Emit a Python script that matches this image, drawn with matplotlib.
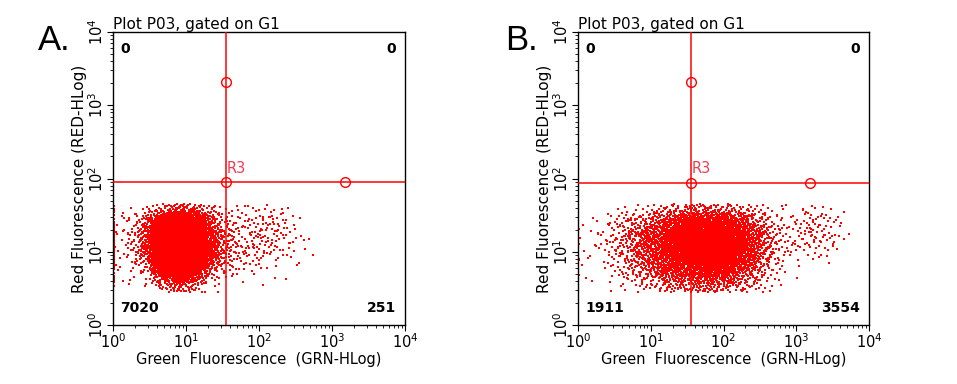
import numpy as np
import matplotlib.pyplot as plt
from matplotlib.ticker import LogLocator, NullFormatter, FixedLocator

# bin edges (log10 units) used to describe the event density
x_edges_a = [0.0, 0.2, 0.4, 0.6, 0.8, 1.0, 1.2, 1.4, 1.6, 1.8, 2.0, 2.2, 2.4, 2.6, 2.8]
x_edges_b = [0.0, 0.2, 0.4, 0.6, 0.8, 1.0, 1.2, 1.4, 1.6, 1.8, 2.0, 2.2, 2.4, 2.6, 2.8,
             3.0, 3.2, 3.4, 3.6, 3.8]
y_edges = [0.45, 0.60, 0.75, 0.90, 1.05, 1.20, 1.35, 1.50, 1.65]

# events per bin, rows bottom -> top
counts_a = [
    [1, 1, 2, 12, 30, 20, 3, 1, 1, 0, 0, 0, 0, 0],
    [2, 3, 8, 60, 140, 90, 20, 6, 4, 2, 1, 1, 0, 0],
    [3, 8, 30, 245, 365, 285, 60, 15, 8, 6, 4, 2, 1, 0],
    [4, 12, 60, 400, 560, 460, 110, 25, 12, 9, 8, 6, 3, 1],
    [4, 14, 70, 430, 590, 480, 120, 28, 13, 11, 10, 8, 4, 1],
    [4, 12, 55, 350, 480, 390, 90, 22, 11, 10, 11, 9, 3, 0],
    [3, 8, 30, 130, 250, 180, 45, 14, 8, 8, 9, 7, 3, 0],
    [1, 3, 8, 20, 45, 30, 12, 5, 4, 4, 4, 4, 1, 0],
]
# events piled up on the left axis (minimum channel), per y bin
edge_pile_a = [2, 5, 8, 10, 10, 9, 7, 4]

counts_b = [
    [0, 0, 1, 3, 6, 11, 17, 22, 27, 27, 21, 13, 6, 2, 0, 0, 0, 0, 0],
    [1, 1, 4, 9, 16, 29, 45, 60, 72, 72, 56, 34, 16, 6, 1, 0, 0, 0, 0],
    [1, 2, 7, 15, 28, 50, 78, 105, 126, 126, 98, 59, 28, 10, 2, 1, 1, 0, 0],
    [2, 3, 10, 21, 38, 68, 106, 150, 185, 180, 133, 80, 38, 13, 4, 4, 4, 2, 0],
    [2, 4, 11, 23, 42, 76, 118, 165, 205, 200, 147, 88, 42, 15, 6, 8, 9, 6, 1],
    [1, 3, 9, 20, 36, 65, 101, 140, 170, 165, 126, 76, 36, 13, 6, 10, 12, 8, 1],
    [1, 2, 6, 13, 22, 38, 60, 85, 100, 100, 78, 45, 20, 8, 4, 8, 9, 6, 1],
    [0, 0, 2, 4, 6, 10, 16, 20, 25, 25, 20, 12, 6, 3, 2, 4, 5, 3, 0],
]
edge_pile_b = [0, 1, 1, 1, 1, 1, 0, 0]

# quadrant gate R3 and its handles
gate_x = [35.5, 35.7]
gate_y = [89.0, 88.0]
handle_top_y = [2090, 2060]
handle_right_x = [1510, 1520]
quad_counts_a = ['0', '0', '7020', '251']
quad_counts_b = ['0', '0', '1911', '3554']
panel_names = ['A.', 'B.']

RED = '#ff0000'


def halton(n, b, start=1):
    i = np.arange(start, start + n)
    f, r = 1.0, np.zeros(n)
    while i.any():
        f /= b
        r += f * (i % b)
        i //= b
    return r


def events(counts, xe, ye, pile):
    # spread the binned counts as dots: smooth (bilinear) density, deterministic sequence
    counts = np.array(counts, float)
    xe, ye = np.array(xe), np.array(ye)
    cx = (xe[:-1] + xe[1:]) / 2
    cy = (ye[:-1] + ye[1:]) / 2
    total = int(counts.sum())
    n = 400000
    px = xe[0] + halton(n, 2) * (xe[-1] - xe[0])
    py = ye[0] + halton(n, 3) * (ye[-1] - ye[0])
    pw = halton(n, 5)
    rows = np.array([np.interp(px, cx, r) for r in counts])
    j = np.clip(np.searchsorted(cy, py) - 1, 0, len(cy) - 2)
    t = np.clip((py - cy[j]) / (cy[j + 1] - cy[j]), 0, 1)
    k = np.arange(n)
    d = rows[j, k] * (1 - t) + rows[j + 1, k] * t
    keep = np.nonzero(pw < d / counts.max())[0][:total]
    lx, ly = list(10 ** px[keep]), list(10 ** py[keep])
    # left-edge pile
    start = 7
    for jj, m in enumerate(pile):
        if m:
            hv = halton(m, 3, start)
            start += m
            ly += list(10 ** (ye[jj] + hv * (ye[jj + 1] - ye[jj])))
            lx += [10 ** 0.012] * m
    return lx, ly


fig = plt.figure(figsize=(9.57, 3.84), dpi=100)
ax_a = fig.add_axes([0.1181, 0.1536, 0.3051, 0.763])
ax_b = fig.add_axes([0.6040, 0.1536, 0.3041, 0.763])

panels = [(ax_a, counts_a, x_edges_a, edge_pile_a, quad_counts_a),
          (ax_b, counts_b, x_edges_b, edge_pile_b, quad_counts_b)]

dec_labels = [r'$10^{0}$', r'$10^{1}$', r'$10^{2}$', r'$10^{3}$', r'$10^{4}$']

for i, (ax, counts, xe, pile, qc) in enumerate(panels):
    xs, ys = events(counts, xe, y_edges, pile)
    ax.scatter(xs, ys, s=2.2, marker='s', color=RED, linewidths=0, zorder=2)

    ax.set_xscale('log')
    ax.set_yscale('log')
    ax.set_xlim(1, 1e4)
    ax.set_ylim(1, 1e4)

    ax.xaxis.set_major_locator(FixedLocator([1, 10, 100, 1000, 10000]))
    ax.yaxis.set_major_locator(FixedLocator([1, 10, 100, 1000, 10000]))
    ax.xaxis.set_minor_locator(LogLocator(base=10, subs=np.arange(2, 10)))
    ax.yaxis.set_minor_locator(LogLocator(base=10, subs=np.arange(2, 10)))
    ax.xaxis.set_minor_formatter(NullFormatter())
    ax.yaxis.set_minor_formatter(NullFormatter())
    ax.set_xticklabels(dec_labels, fontsize=10.5)
    ax.set_yticklabels(dec_labels, fontsize=10.5, rotation=90, va='center')
    ax.tick_params(which='major', direction='out', length=4, width=0.8, pad=1)
    ax.tick_params(which='minor', direction='out', length=2, width=0.6)
    for sp in ax.spines.values():
        sp.set_linewidth(1.0)

    ax.set_xlabel('Green  Fluorescence  (GRN-HLog)', fontsize=10.5, labelpad=1)
    ax.set_ylabel('Red Fluorescence (RED-HLog)', fontsize=11, labelpad=0)
    ax.set_title('Plot P03, gated on G1', fontsize=11, loc='left', pad=1)

    # quadrant gate
    ax.axvline(gate_x[i], color=RED, lw=1.1, zorder=3)
    ax.axhline(gate_y[i], color=RED, lw=1.1, zorder=3)
    ax.plot([gate_x[i], gate_x[i], handle_right_x[i]],
            [handle_top_y[i], gate_y[i], gate_y[i]],
            'o', ms=7, mfc='none', mec=RED, mew=1.0, zorder=4)
    ax.text(gate_x[i] * 1.02, gate_y[i] * 1.22, 'R3', color='#f03c50',
            fontsize=10.5, ha='left', va='bottom')

    kw = dict(transform=ax.transAxes, fontsize=10, fontweight='bold')
    ax.text(0.025, 0.965, qc[0], ha='left', va='top', **kw)
    ax.text(0.97, 0.965, qc[1], ha='right', va='top', **kw)
    ax.text(0.025, 0.035, qc[2], ha='left', va='bottom', **kw)
    ax.text(0.97, 0.035, qc[3], ha='right', va='bottom', **kw)

fig.text(0.040, 0.895, panel_names[0], fontsize=25, family='Liberation Sans', va='center')
fig.text(0.528, 0.895, panel_names[1], fontsize=25, family='Liberation Sans', va='center')

fig.savefig('out.png', dpi=100)
